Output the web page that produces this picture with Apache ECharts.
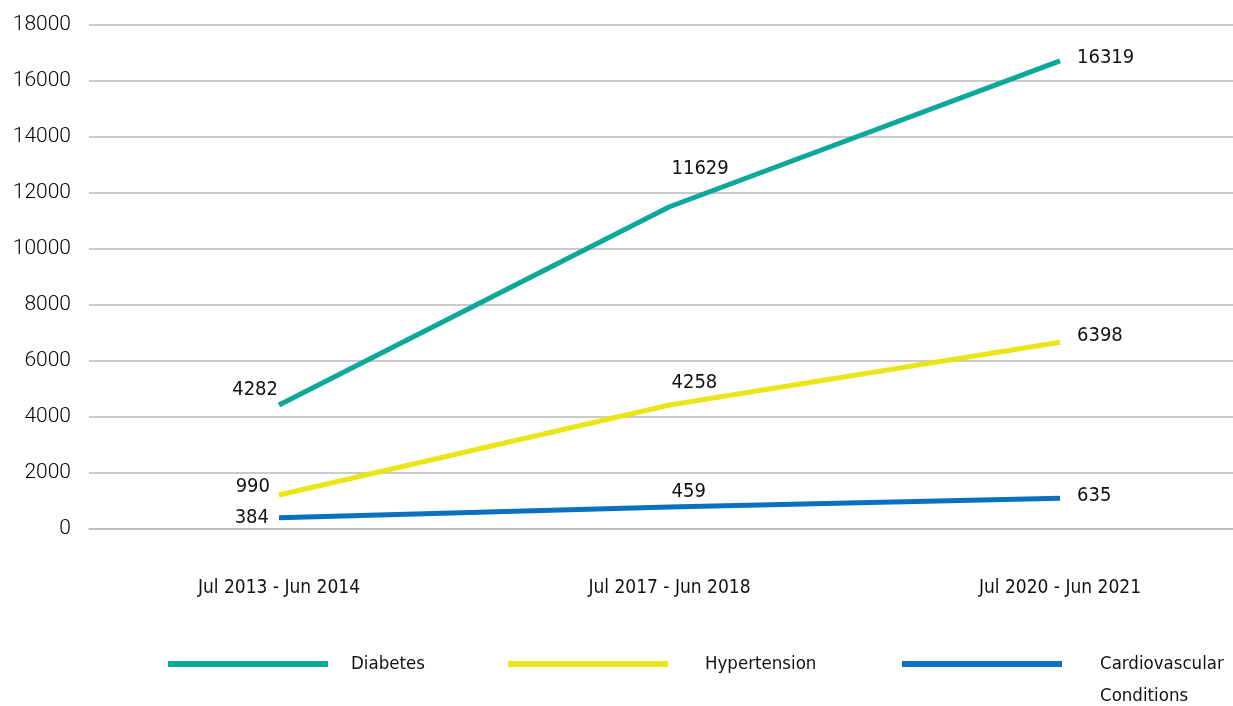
<!DOCTYPE html>
<html>
<head>
<meta charset="utf-8">
<style>
  html, body { margin: 0; padding: 0; background: #fff; }
  #chart { width: 1233px; height: 706px; }
</style>
<script src="https://cdn.jsdelivr.net/npm/echarts@6/dist/echarts.min.js"></script>
</head>
<body>
<div id="chart"></div>
<script>
// periods on the x axis
const periods = ["Jul 2013 - Jun 2014", "Jul 2017 - Jun 2018", "Jul 2020 - Jun 2021"];
const seriesNames = ["Diabetes", "Hypertension", "Cardiovascular Conditions"];

// line heights as drawn in the picture
const diabetesValues = [4430, 11510, 16720];
const hypertensionValues = [1214, 4430, 6670];
const cardioValues = [405, 790, 1095];

// numbers printed next to the points
const diabetesLabels = ["4282", "11629", "16319"];
const hypertensionLabels = ["990", "4258", "6398"];
const cardioLabels = ["384", "459", "635"];

const yTicks = [0, 2000, 4000, 6000, 8000, 10000, 12000, 14000, 16000, 18000];

const colors = ["#0BA89B", "#EAE518", "#0A70C0"];
const condensed = "'DejaVu Sans Condensed', Roboto, sans-serif";
const textColor = "#111";
const gridColor = "#b8b8b8";

// per series label nudges: [first, middle, last]
const labelNudge = [
  [{ d: 1, y: -15 }, { d: 2, y: -38 }, { d: 17, y: -3 }],
  [{ d: 9, y: -8 }, { d: 2, y: -22 }, { d: 17, y: -6 }],
  [{ d: 10, y: 0 }, { d: 2, y: -15 }, { d: 17, y: -3 }],
];

const buildData = (values, labels, s) =>
  values.map((v, i) => ({
    value: v,
    label: {
      show: true,
      formatter: labels[i],
      position: i === 0 ? "left" : "right",
      distance: labelNudge[s][i].d,
      offset: [0, labelNudge[s][i].y],
      color: textColor,
      fontFamily: condensed,
      fontSize: 20,
    },
  }));

const makeSeries = (name, values, labels, s) => ({
  name,
  type: "line",
  xAxisIndex: 1,
  yAxisIndex: 1,
  data: buildData(values, labels, s),
  symbol: "circle",
  symbolSize: 0,
  showSymbol: true,
  lineStyle: { width: 5, color: colors[s] },
  itemStyle: { color: colors[s] },
  emphasis: { disabled: true },
  z: 3 - s,
});

// two-line names keep their first line level with the swatch
const makeLegend = (name, left, padLeft) => {
  const twoLine = name.includes(" ");
  return {
    left,
    top: twoLine ? 611 : 643,
    icon: "rect",
    itemWidth: 160,
    itemHeight: 6,
    selectedMode: false,
    formatter: (n) => (n.includes(" ") ? " \n" + n.replace(" ", "\n") : n),
    textStyle: {
      color: textColor,
      fontFamily: condensed,
      fontSize: 18.5,
      lineHeight: 32,
      padding: [0, 0, 0, padLeft],
    },
    data: [name],
  };
};

const chart = echarts.init(document.getElementById("chart"));
chart.setOption({
  animation: false,
  color: colors,
  grid: [
    { left: 89, right: 0, top: 25, height: 504 },
    { left: 279, right: 173, top: 25, height: 504 },
  ],
  xAxis: [
    {
      gridIndex: 0,
      type: "category",
      data: periods,
      axisLine: { show: true, lineStyle: { color: gridColor, width: 1.5 } },
      axisTick: { show: false },
      axisLabel: { show: false },
    },
    {
      gridIndex: 1,
      type: "category",
      data: periods,
      boundaryGap: false,
      axisLine: { show: false },
      axisTick: { show: false },
      axisLabel: { margin: 50, color: textColor, fontFamily: condensed, fontSize: 19 },
    },
  ],
  yAxis: [
    {
      gridIndex: 0,
      type: "value",
      min: yTicks[0],
      max: yTicks[yTicks.length - 1],
      interval: yTicks[1] - yTicks[0],
      axisLine: { show: false },
      axisTick: { show: false },
      splitLine: { lineStyle: { color: gridColor, width: 1.5 } },
      axisLabel: {
        margin: 18,
        color: "#000",
        fontFamily: "Roboto, sans-serif",
        fontSize: 21,
        fontWeight: 300,
        formatter: (v) => String(v),
      },
    },
    {
      gridIndex: 1,
      type: "value",
      min: yTicks[0],
      max: yTicks[yTicks.length - 1],
      show: false,
      splitLine: { show: false },
    },
  ],
  legend: [
    makeLegend(seriesNames[0], 163, 18),
    makeLegend(seriesNames[1], 503, 32),
    makeLegend(seriesNames[2], 897, 33),
  ],
  series: [
    makeSeries(seriesNames[0], diabetesValues, diabetesLabels, 0),
    makeSeries(seriesNames[1], hypertensionValues, hypertensionLabels, 1),
    makeSeries(seriesNames[2], cardioValues, cardioLabels, 2),
  ],
});
</script>
</body>
</html>
